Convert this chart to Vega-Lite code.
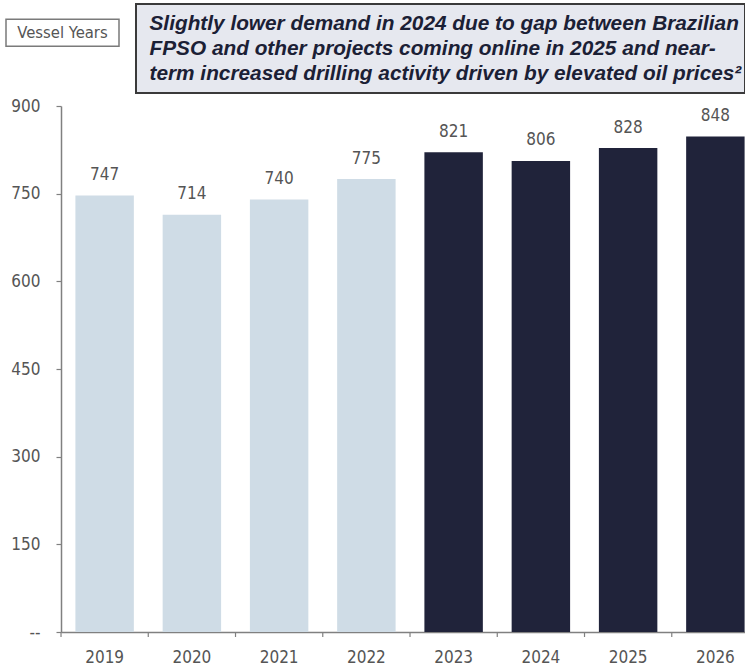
{
  "$schema": "https://vega.github.io/schema/vega-lite/v6.json",
  "background": "white",
  "padding": {"left": 5, "top": 3, "right": 0, "bottom": 0},
  "config": {
    "view": {"stroke": null},
    "font": "DejaVu Sans Condensed"
  },
  "spacing": 3,
  "vconcat": [
    {
      "spacing": 15,
      "center": true,
      "hconcat": [
        {
          "title": {"text": " ", "orient": "bottom", "fontSize": 20, "offset": 12, "anchor": "start"},
          "width": 113,
          "height": 27,
          "view": {"stroke": "#7a7a7a", "strokeWidth": 1.5, "fill": "white"},
          "data": {"values": [{"label": "Vessel Years"}]},
          "mark": {"type": "text", "align": "center", "baseline": "middle", "fontSize": 16.5, "color": "#555555", "font": "DejaVu Sans Condensed"},
          "encoding": {"text": {"field": "label"}}
        },
        {
          "width": 609,
          "height": 89,
          "view": {"stroke": "#3a3a3a", "strokeWidth": 2, "fill": "#e6e8ef"},
          "data": {"values": [{"note": ["Slightly lower demand in 2024 due to gap between Brazilian", "FPSO and other projects coming online in 2025 and near-", "term increased drilling activity driven by elevated oil prices²"]}]},
          "mark": {"type": "text", "align": "left", "baseline": "middle", "dx": -291, "dy": -25, "fontSize": 20.8, "fontWeight": "bold", "fontStyle": "italic", "lineHeight": 25, "color": "#1b2035", "font": "Liberation Sans"},
          "encoding": {"text": {"field": "note"}}
        }
      ]
    },
    {
      "width": 753,
      "height": 526,
      "data": {"values": [
        {"year": "2019", "vessel_years": 747, "phase": "Historical"},
        {"year": "2020", "vessel_years": 714, "phase": "Historical"},
        {"year": "2021", "vessel_years": 740, "phase": "Historical"},
        {"year": "2022", "vessel_years": 775, "phase": "Historical"},
        {"year": "2023", "vessel_years": 821, "phase": "Projected"},
        {"year": "2024", "vessel_years": 806, "phase": "Projected"},
        {"year": "2025", "vessel_years": 828, "phase": "Projected"},
        {"year": "2026", "vessel_years": 848, "phase": "Projected"}
      ]},
      "encoding": {
        "x": {
          "field": "year", "type": "ordinal",
          "scale": {"range": [55, 753], "paddingInner": 0.33, "paddingOuter": 0.165},
          "axis": {
            "title": null, "labelAngle": 0, "ticks": false,
            "domainColor": "#808080", "domainWidth": 1.5,
            "labelFontSize": 17, "labelColor": "#555555", "labelPadding": 17,
            "labelFont": "DejaVu Sans Condensed"
          }
        },
        "y": {
          "field": "vessel_years", "type": "quantitative",
          "scale": {"domain": [0, 900], "nice": false},
          "axis": {
            "title": null, "values": [0, 150, 300, 450, 600, 750, 900],
            "grid": false, "offset": -55, "minExtent": 0,
            "domainColor": "#808080", "domainWidth": 1.5,
            "tickColor": "#808080", "tickWidth": 1.2, "tickSize": 5,
            "labelFontSize": 17, "labelColor": "#555555", "labelPadding": 16,
            "labelFont": "DejaVu Sans Condensed",
            "labelExpr": "datum.value == 0 ? '--' : datum.label"
          }
        }
      },
      "layer": [
        {
          "mark": {"type": "bar"},
          "encoding": {
            "color": {
              "field": "phase", "type": "nominal", "legend": null,
              "scale": {"domain": ["Historical", "Projected"], "range": ["#cfdce6", "#20233a"]}
            }
          }
        },
        {
          "mark": {"type": "rule", "clip": false, "color": "#808080", "strokeWidth": 1.2},
          "encoding": {
            "x": {"field": "year", "type": "ordinal", "bandPosition": -0.246},
            "y": {"datum": 0},
            "y2": {"datum": -8.6}
          }
        },
        {
          "mark": {"type": "text", "baseline": "middle", "dy": -20.5, "fontSize": 17, "color": "#555555", "font": "DejaVu Sans Condensed"},
          "encoding": {"text": {"field": "vessel_years", "type": "quantitative"}}
        }
      ]
    }
  ]
}
